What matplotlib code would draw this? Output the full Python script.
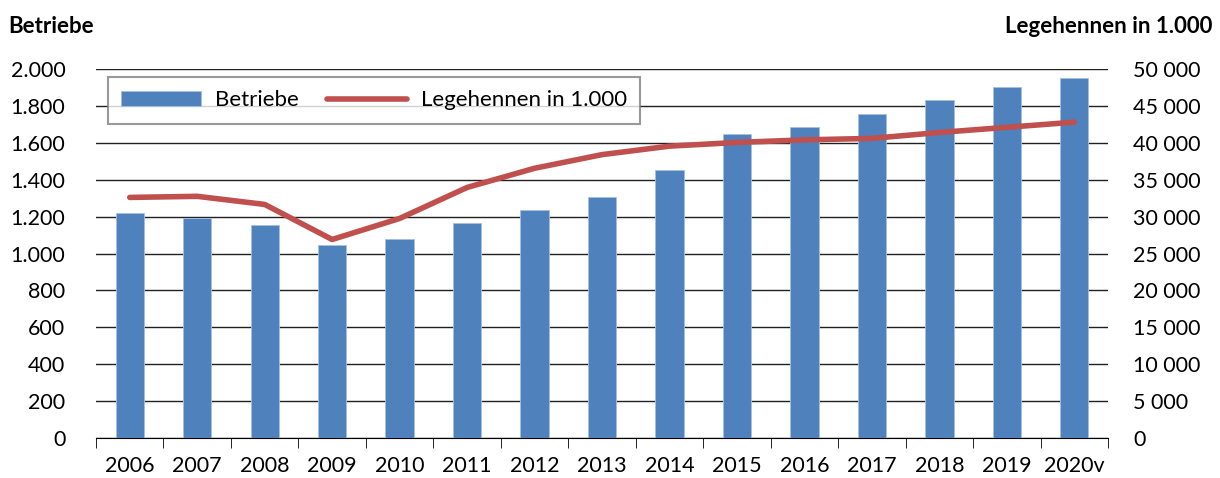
import numpy as np
import matplotlib.pyplot as plt
from matplotlib.ticker import FuncFormatter

plt.rcParams['font.family'] = ['Lato', 'DejaVu Sans']

years = ['2006', '2007', '2008', '2009', '2010', '2011', '2012', '2013',
         '2014', '2015', '2016', '2017', '2018', '2019', '2020v']
betriebe = [1220, 1195, 1155, 1048, 1080, 1168, 1238, 1308,
            1452, 1648, 1685, 1755, 1830, 1900, 1950]
hennen = [32600, 32750, 31650, 26900, 29750, 33950, 36550, 38400,
          39550, 40050, 40400, 40600, 41400, 42100, 42800]

bar_col = '#4f81bd'
line_col = '#c0504d'

fig = plt.figure(figsize=(12.2, 4.78), dpi=100)
ax = fig.add_axes([0.0787, 0.0837, 0.8295, 0.7719])
ax2 = ax.twinx()

x = np.arange(len(years))
ax.bar(x, betriebe, width=0.42, color=bar_col, edgecolor='#a8c0e0', lw=0.6,
       zorder=3, label='Betriebe')
ax2.plot(x, hennen, color=line_col, lw=4, solid_capstyle='round',
         label='Legehennen in 1.000', zorder=4)

ax.set_xlim(-0.5, len(years) - 0.5)
ax.set_ylim(0, 2000)
ax2.set_ylim(0, 50000)
ax.set_yticks(np.arange(0, 2001, 200))
ax2.set_yticks(np.arange(0, 50001, 5000))
ax.yaxis.set_major_formatter(FuncFormatter(lambda v, p: f'{int(v):,}'.replace(',', '.')))
ax2.yaxis.set_major_formatter(FuncFormatter(lambda v, p: f'{int(v):,}'.replace(',', ' ')))
ax.grid(axis='y', color='#202020', lw=1, zorder=0)
ax.set_axisbelow(True)

ax.set_xticks(x)
ax.set_xticklabels(years)
ax.set_xticks(np.arange(-0.5, len(years)), minor=True)
ax.tick_params(axis='x', which='major', length=0, pad=13, labelsize=15.5)
ax.tick_params(axis='x', which='minor', length=7, color='black')
ax.tick_params(axis='y', length=0, labelsize=15.5, pad=22)
ax2.tick_params(axis='y', length=0, labelsize=15.5, pad=18)

for a in (ax, ax2):
    for s in ('top', 'left', 'right'):
        a.spines[s].set_visible(False)
ax.spines['bottom'].set_color('black')
ax2.spines['bottom'].set_visible(False)

h1, l1 = ax.get_legend_handles_labels()
h2, l2 = ax2.get_legend_handles_labels()
leg = ax2.legend(h1 + h2, l1 + l2, loc='upper left', bbox_to_anchor=(0.012, 0.978),
                 borderaxespad=0, ncol=2, fontsize=16, frameon=True, fancybox=False,
                 edgecolor='#808080', handlelength=3.6, columnspacing=1.3,
                 borderpad=0.6, handletextpad=0.6)
leg.get_frame().set_linewidth(1.5)

fig.text(0.007, 0.945, 'Betriebe', fontsize=16, fontweight='bold', ha='left', va='center')
fig.text(0.994, 0.945, 'Legehennen in 1.000', fontsize=16, fontweight='bold', ha='right', va='center')

fig.savefig('out.png', dpi=100)
